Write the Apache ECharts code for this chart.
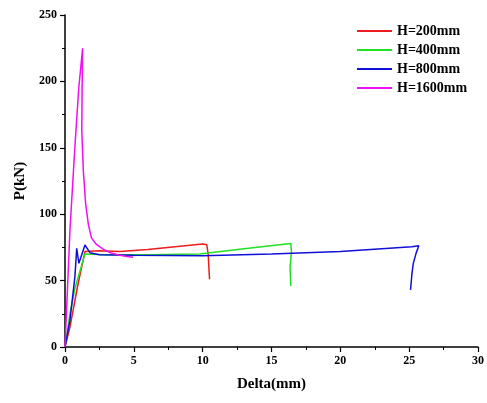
<!DOCTYPE html>
<html>
<head>
<meta charset="utf-8">
<script src="https://cdn.jsdelivr.net/npm/echarts@6/dist/echarts.min.js"></script>
<style>
  html, body { margin: 0; padding: 0; background: #fff; }
  #main { width: 487px; height: 403px; }
</style>
</head>
<body>
<div id="main"></div>
<script>
var chart = echarts.init(document.getElementById('main'));

// load-displacement curves
var names = ['H=200mm', 'H=400mm', 'H=800mm', 'H=1600mm'];
var colors = ['#ee1c1c', '#22e022', '#1010d8', '#ee10ee'];

var h200X = [0, 0.36, 0.9, 1.45, 2.5, 4, 6, 8, 10, 10.3, 10.4, 10.45, 10.5];
var h200Y = [0, 15, 45, 72, 72.5, 72, 73.5, 75.5, 77.5, 77, 70, 60, 51];

var h400X = [0, 0.36, 0.72, 1.45, 3, 6, 9.8, 13, 16.4, 16.45, 16.35, 16.4];
var h400Y = [0, 25, 44, 70, 69.5, 69.5, 70, 74, 78, 72, 60, 46];

var h800X = [0, 0.36, 0.72, 0.85, 1.01, 1.45, 1.81, 2.5, 5, 10, 15, 20, 25.2, 25.7, 25.5, 25.3, 25.2, 25.1];
var h800Y = [0, 20, 53, 74.3, 63, 76.8, 71, 69.5, 69, 68.8, 70, 72, 75.5, 76.3, 70.5, 63, 55, 43];

var h1600X = [0, 0.36, 0.72, 1.0, 1.28, 1.24, 1.22, 1.33, 1.5, 1.7, 1.93, 2.3, 2.8, 3.3, 3.9, 4.4, 4.95];
var h1600Y = [0, 88, 151, 195, 225, 190, 163, 133, 108, 92, 82, 77, 73.5, 71, 69.3, 68.3, 67.5];

var xs = [h200X, h400X, h800X, h1600X];
var ys = [h200Y, h400Y, h800Y, h1600Y];

var serifBold = {
    fontFamily: 'Liberation Serif, Times New Roman, serif',
    fontWeight: 'bold',
    color: '#000'
};

var series = names.map(function (name, i) {
    return {
        name: name,
        type: 'line',
        showSymbol: false,
        smooth: false,
        lineStyle: { width: 1.5, color: colors[i] },
        itemStyle: { color: colors[i] },
        data: xs[i].map(function (x, j) { return [x, ys[i][j]]; })
    };
});

var option = {
    animation: false,
    backgroundColor: '#fff',
    grid: { left: 65, right: 8, top: 15, bottom: 56 },
    legend: {
        data: names,
        orient: 'vertical',
        left: 352,
        top: 19,
        icon: 'rect',
        itemWidth: 35,
        itemHeight: 2,
        itemGap: 5,
        textStyle: Object.assign({ fontSize: 14 }, serifBold)
    },
    xAxis: {
        type: 'value',
        min: 0,
        max: 30,
        interval: 5,
        name: 'Delta(mm)',
        nameLocation: 'middle',
        nameGap: 30,
        nameTextStyle: Object.assign({ fontSize: 15 }, serifBold),
        axisLine: { lineStyle: { color: '#000', width: 1.5 } },
        axisTick: { length: 5, lineStyle: { color: '#000', width: 1.2 } },
        minorTick: { show: true, splitNumber: 2, length: 3, lineStyle: { color: '#000' } },
        axisLabel: Object.assign({ fontSize: 12, margin: 8 }, serifBold),
        splitLine: { show: false }
    },
    yAxis: {
        type: 'value',
        min: 0,
        max: 250,
        interval: 50,
        name: 'P(kN)',
        nameLocation: 'middle',
        nameGap: 36,
        nameTextStyle: Object.assign({ fontSize: 15 }, serifBold),
        axisLine: { show: true, lineStyle: { color: '#000', width: 1.5 } },
        axisTick: { show: true, length: 5, lineStyle: { color: '#000', width: 1.2 } },
        minorTick: { show: true, splitNumber: 2, length: 3, lineStyle: { color: '#000' } },
        axisLabel: Object.assign({ fontSize: 12, margin: 8 }, serifBold),
        splitLine: { show: false }
    },
    series: series
};

chart.setOption(option);
</script>
</body>
</html>
